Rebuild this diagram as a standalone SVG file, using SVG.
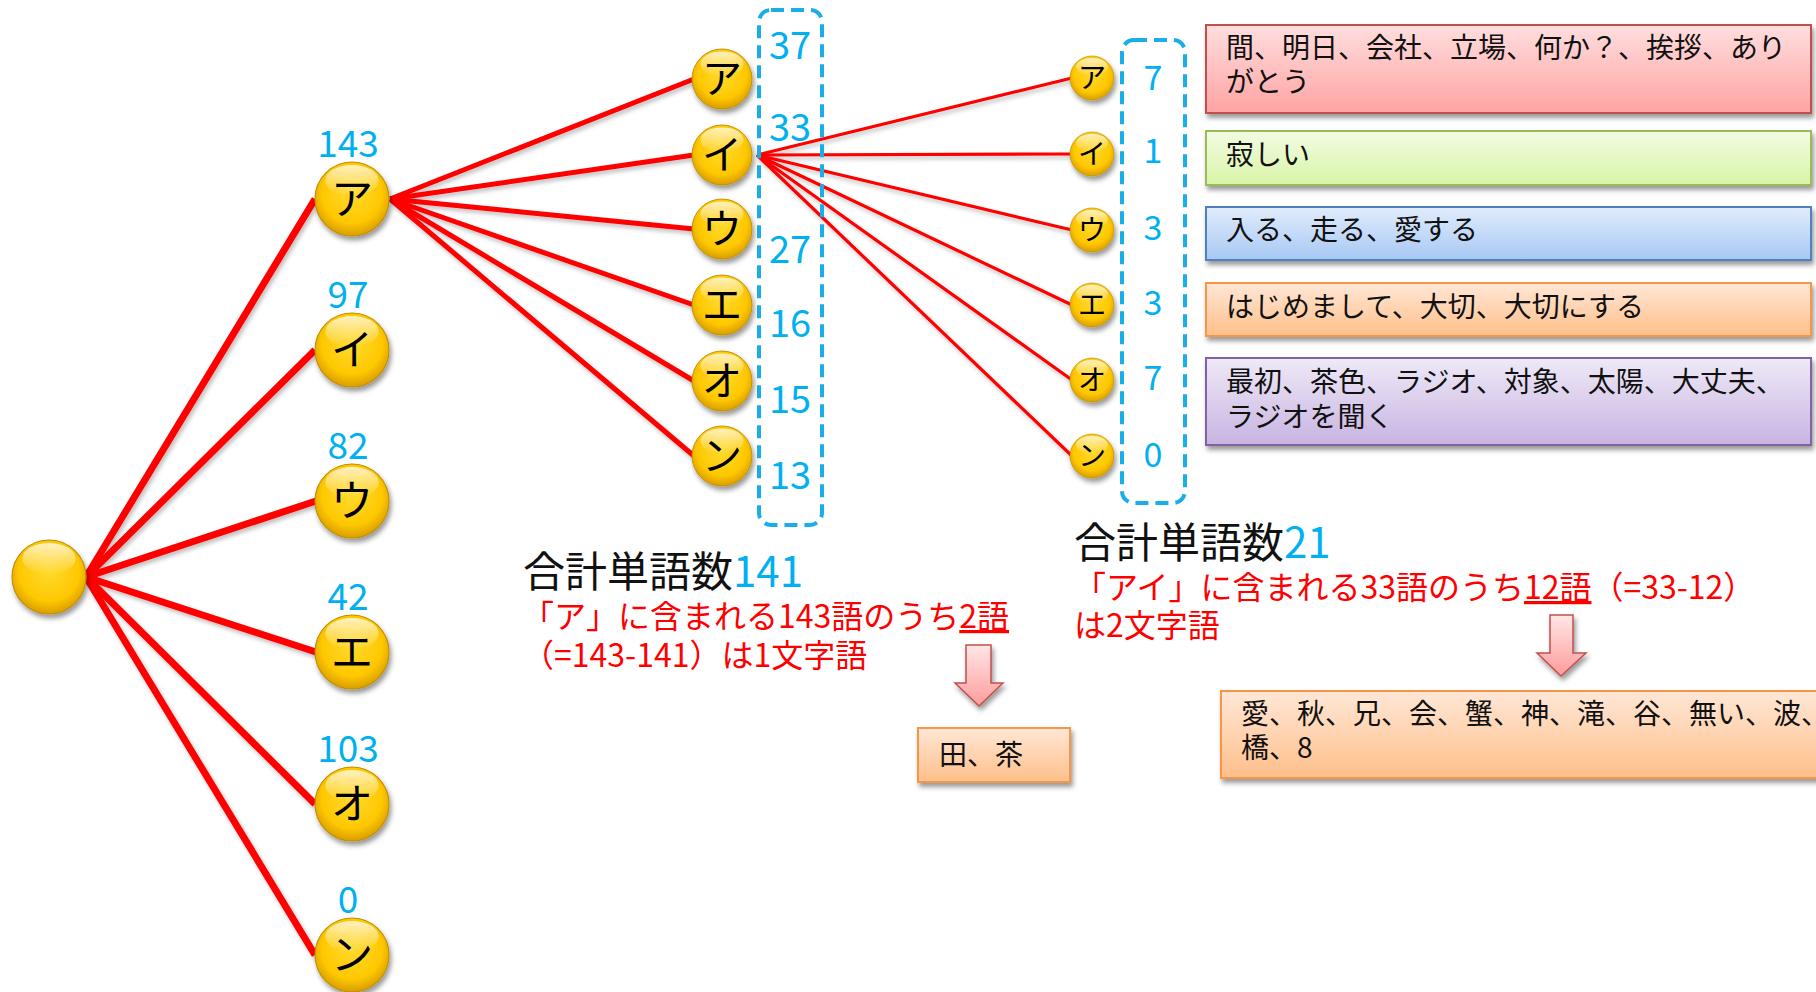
<svg xmlns="http://www.w3.org/2000/svg" width="1816" height="992" viewBox="0 0 1816 992">
<defs>
<radialGradient id="gold" cx="50%" cy="42%" r="58%">
<stop offset="0" stop-color="#FFDA2E"/>
<stop offset="0.7" stop-color="#FFC800"/>
<stop offset="1" stop-color="#D99E00"/>
</radialGradient>
<linearGradient id="gloss" x1="0" y1="0" x2="0" y2="1">
<stop offset="0" stop-color="#FFFFFF" stop-opacity="0.75"/>
<stop offset="1" stop-color="#FFFFFF" stop-opacity="0"/>
</linearGradient>
<linearGradient id="gRed" x1="0" y1="0" x2="0" y2="1"><stop offset="0" stop-color="#FFDEDE"/><stop offset="1" stop-color="#FFA3A3"/></linearGradient>
<linearGradient id="gGreen" x1="0" y1="0" x2="0" y2="1"><stop offset="0" stop-color="#F3FBE3"/><stop offset="1" stop-color="#D8F5A6"/></linearGradient>
<linearGradient id="gBlue" x1="0" y1="0" x2="0" y2="1"><stop offset="0" stop-color="#E1ECFC"/><stop offset="1" stop-color="#A7C8F4"/></linearGradient>
<linearGradient id="gOrange" x1="0" y1="0" x2="0" y2="1"><stop offset="0" stop-color="#FFE7D6"/><stop offset="1" stop-color="#FFBF8A"/></linearGradient>
<linearGradient id="gPurple" x1="0" y1="0" x2="0" y2="1"><stop offset="0" stop-color="#EFE9F7"/><stop offset="1" stop-color="#C7B4E2"/></linearGradient>
<linearGradient id="gArrow" x1="0" y1="0" x2="0" y2="1"><stop offset="0" stop-color="#FFE6E6"/><stop offset="1" stop-color="#FF9C9C"/></linearGradient>
<filter id="sh" x="-30%" y="-30%" width="160%" height="160%">
<feDropShadow dx="2" dy="4" stdDeviation="2.5" flood-color="#000" flood-opacity="0.4"/>
</filter>
<filter id="lsh" x="-10%" y="-10%" width="120%" height="120%">
<feDropShadow dx="2" dy="3" stdDeviation="2" flood-color="#000" flood-opacity="0.25"/>
</filter>
<g id="ball">
<circle r="1" fill="url(#gold)" stroke="#C08E00" stroke-width="0.03"/>
<ellipse cx="0" cy="-0.5" rx="0.72" ry="0.42" fill="url(#gloss)"/>
</g>
</defs>
<style>
text{font-family:"Noto Sans CJK JP","Noto Sans",sans-serif;}
.kana{fill:#000;text-anchor:middle;}
.num{fill:#00B0F0;text-anchor:middle;}
.sh{filter:url(#sh);}
.box{filter:url(#sh);stroke-width:2;}
.bt{fill:#111;font-size:28px;}
.red{fill:#FF0000;font-size:32px;}
.tot{fill:#111;font-size:42px;}
.dash{fill:none;stroke:#1AAEE8;stroke-width:4;stroke-dasharray:13 7;}
.l1{stroke:#FF0000;stroke-width:7;fill:none;}
.l2{stroke:#FF0000;stroke-width:5;fill:none;}
.l3{stroke:#FF0000;stroke-width:3.2;fill:none;}
</style>
<rect width="1816" height="992" fill="#FFFFFF"/>

<g id="connectors" filter="url(#lsh)">
<line class="l1" x1="86" y1="577" x2="315" y2="199"/>
<line class="l1" x1="86" y1="577" x2="315" y2="350"/>
<line class="l1" x1="86" y1="577" x2="316" y2="501"/>
<line class="l1" x1="86" y1="577" x2="316" y2="652"/>
<line class="l1" x1="86" y1="577" x2="315" y2="804"/>
<line class="l1" x1="86" y1="577" x2="315" y2="955"/>
<line class="l2" x1="390" y1="199" x2="694" y2="79"/>
<line class="l2" x1="390" y1="199" x2="694" y2="155"/>
<line class="l2" x1="390" y1="199" x2="694" y2="229"/>
<line class="l2" x1="390" y1="199" x2="694" y2="305"/>
<line class="l2" x1="390" y1="199" x2="694" y2="381"/>
<line class="l2" x1="390" y1="199" x2="694" y2="456"/>
<line class="l3" x1="757" y1="155" x2="1072" y2="78"/>
<line class="l3" x1="757" y1="155" x2="1072" y2="154"/>
<line class="l3" x1="757" y1="155" x2="1072" y2="230"/>
<line class="l3" x1="757" y1="155" x2="1072" y2="305"/>
<line class="l3" x1="757" y1="155" x2="1072" y2="380"/>
<line class="l3" x1="757" y1="155" x2="1072" y2="456"/>
</g>

<g id="root"><g class="sh"><use href="#ball" transform="translate(49,577) scale(37)"/></g></g>

<g id="level1">
<g id="n1-a"><g class="sh"><use href="#ball" transform="translate(352,199) scale(37)"/></g><text class="kana" x="352" y="214" font-size="42">ア</text><text class="num" x="348" y="157" font-size="37">143</text></g>
<g id="n1-i"><g class="sh"><use href="#ball" transform="translate(352,350) scale(37)"/></g><text class="kana" x="352" y="365" font-size="42">イ</text><text class="num" x="348" y="308" font-size="37">97</text></g>
<g id="n1-u"><g class="sh"><use href="#ball" transform="translate(352,501) scale(37)"/></g><text class="kana" x="352" y="516" font-size="42">ウ</text><text class="num" x="348" y="459" font-size="37">82</text></g>
<g id="n1-e"><g class="sh"><use href="#ball" transform="translate(352,652) scale(37)"/></g><text class="kana" x="352" y="667" font-size="42">エ</text><text class="num" x="348" y="610" font-size="37">42</text></g>
<g id="n1-o"><g class="sh"><use href="#ball" transform="translate(352,804) scale(37)"/></g><text class="kana" x="352" y="819" font-size="42">オ</text><text class="num" x="348" y="762" font-size="37">103</text></g>
<g id="n1-n"><g class="sh"><use href="#ball" transform="translate(352,955) scale(37)"/></g><text class="kana" x="352" y="970" font-size="42">ン</text><text class="num" x="348" y="913" font-size="37">0</text></g>
</g>

<g id="level2">
<rect class="dash" x="759" y="10" width="63" height="515" rx="12"/>
<g id="n2-a"><g class="sh"><use href="#ball" transform="translate(722,79) scale(30)"/></g><text class="kana" x="722" y="93" font-size="40">ア</text><text class="num" x="790" y="59" font-size="38">37</text></g>
<g id="n2-i"><g class="sh"><use href="#ball" transform="translate(722,155) scale(30)"/></g><text class="kana" x="722" y="169" font-size="40">イ</text><text class="num" x="790" y="141" font-size="38">33</text></g>
<g id="n2-u"><g class="sh"><use href="#ball" transform="translate(722,229) scale(30)"/></g><text class="kana" x="722" y="243" font-size="40">ウ</text><text class="num" x="790" y="263" font-size="38">27</text></g>
<g id="n2-e"><g class="sh"><use href="#ball" transform="translate(722,305) scale(30)"/></g><text class="kana" x="722" y="319" font-size="40">エ</text><text class="num" x="790" y="337" font-size="38">16</text></g>
<g id="n2-o"><g class="sh"><use href="#ball" transform="translate(722,381) scale(30)"/></g><text class="kana" x="722" y="395" font-size="40">オ</text><text class="num" x="790" y="413" font-size="38">15</text></g>
<g id="n2-n"><g class="sh"><use href="#ball" transform="translate(722,456) scale(30)"/></g><text class="kana" x="722" y="470" font-size="40">ン</text><text class="num" x="790" y="489" font-size="38">13</text></g>
</g>

<g id="level3">
<rect class="dash" x="1122" y="40" width="63" height="463" rx="12"/>
<g id="n3-a"><g class="sh"><use href="#ball" transform="translate(1092,78) scale(22)"/></g><text class="kana" x="1092" y="88" font-size="28">ア</text><text class="num" x="1153" y="90" font-size="34">7</text></g>
<g id="n3-i"><g class="sh"><use href="#ball" transform="translate(1092,154) scale(22)"/></g><text class="kana" x="1092" y="164" font-size="28">イ</text><text class="num" x="1153" y="163" font-size="34">1</text></g>
<g id="n3-u"><g class="sh"><use href="#ball" transform="translate(1092,230) scale(22)"/></g><text class="kana" x="1092" y="240" font-size="28">ウ</text><text class="num" x="1153" y="240" font-size="34">3</text></g>
<g id="n3-e"><g class="sh"><use href="#ball" transform="translate(1092,305) scale(22)"/></g><text class="kana" x="1092" y="315" font-size="28">エ</text><text class="num" x="1153" y="315" font-size="34">3</text></g>
<g id="n3-o"><g class="sh"><use href="#ball" transform="translate(1092,380) scale(22)"/></g><text class="kana" x="1092" y="390" font-size="28">オ</text><text class="num" x="1153" y="390" font-size="34">7</text></g>
<g id="n3-n"><g class="sh"><use href="#ball" transform="translate(1092,456) scale(22)"/></g><text class="kana" x="1092" y="466" font-size="28">ン</text><text class="num" x="1153" y="467" font-size="34">0</text></g>
</g>

<g id="word-boxes">
<g id="box-a"><rect class="box" x="1206" y="25" width="605" height="88" fill="url(#gRed)" stroke="#C0504D"/><text class="bt" x="1226" y="58">間、明日、会社、立場、何か？、挨拶、あり</text><text class="bt" x="1226" y="92">がとう</text></g>
<g id="box-i"><rect class="box" x="1206" y="131" width="605" height="54" fill="url(#gGreen)" stroke="#9BBB59"/><text class="bt" x="1226" y="165">寂しい</text></g>
<g id="box-u"><rect class="box" x="1206" y="207" width="605" height="53" fill="url(#gBlue)" stroke="#4F81BD"/><text class="bt" x="1226" y="240">入る、走る、愛する</text></g>
<g id="box-e"><rect class="box" x="1206" y="283" width="605" height="53" fill="url(#gOrange)" stroke="#F79646"/><text class="bt" x="1226" y="317">はじめまして、大切、大切にする</text></g>
<g id="box-o"><rect class="box" x="1206" y="358" width="605" height="87" fill="url(#gPurple)" stroke="#8064A2"/><text class="bt" x="1226" y="392">最初、茶色、ラジオ、対象、太陽、大丈夫、</text><text class="bt" x="1226" y="427">ラジオを聞く</text></g>
</g>

<g id="summary-left">
<text class="tot" x="523" y="587">合計単語数<tspan fill="#00B0F0">141</tspan></text>
<text class="red" x="522" y="628">「ア」に含まれる143語のうち<tspan text-decoration="underline">2語</tspan></text>
<text class="red" x="522" y="667">（=143-141）は1文字語</text>
<path d="M966,645 H991 V683 H1003 L979,706 L955,683 H966 Z" fill="url(#gArrow)" stroke="#C0504D" stroke-width="1.5" filter="url(#sh)"/>
<g id="box-single"><rect class="box" x="918" y="728" width="152" height="54" fill="url(#gOrange)" stroke="#F79646"/><text class="bt" x="939" y="765">田、茶</text></g>
</g>

<g id="summary-right">
<text class="tot" x="1074" y="558">合計単語数<tspan fill="#00B0F0">21</tspan></text>
<text class="red" x="1074" y="599">「アイ」に含まれる33語のうち<tspan text-decoration="underline">12語</tspan>（=33-12）</text>
<text class="red" x="1074" y="637">は2文字語</text>
<path d="M1550,615 H1573 V653 H1586 L1561,676 L1537,653 H1550 Z" fill="url(#gArrow)" stroke="#C0504D" stroke-width="1.5" filter="url(#sh)"/>
<g id="box-double"><rect class="box" x="1221" y="691" width="640" height="87" fill="url(#gOrange)" stroke="#F79646"/><text class="bt" x="1241" y="724">愛、秋、兄、会、蟹、神、滝、谷、無い、波、</text><text class="bt" x="1241" y="758">橋、8</text></g>
</g>
</svg>
